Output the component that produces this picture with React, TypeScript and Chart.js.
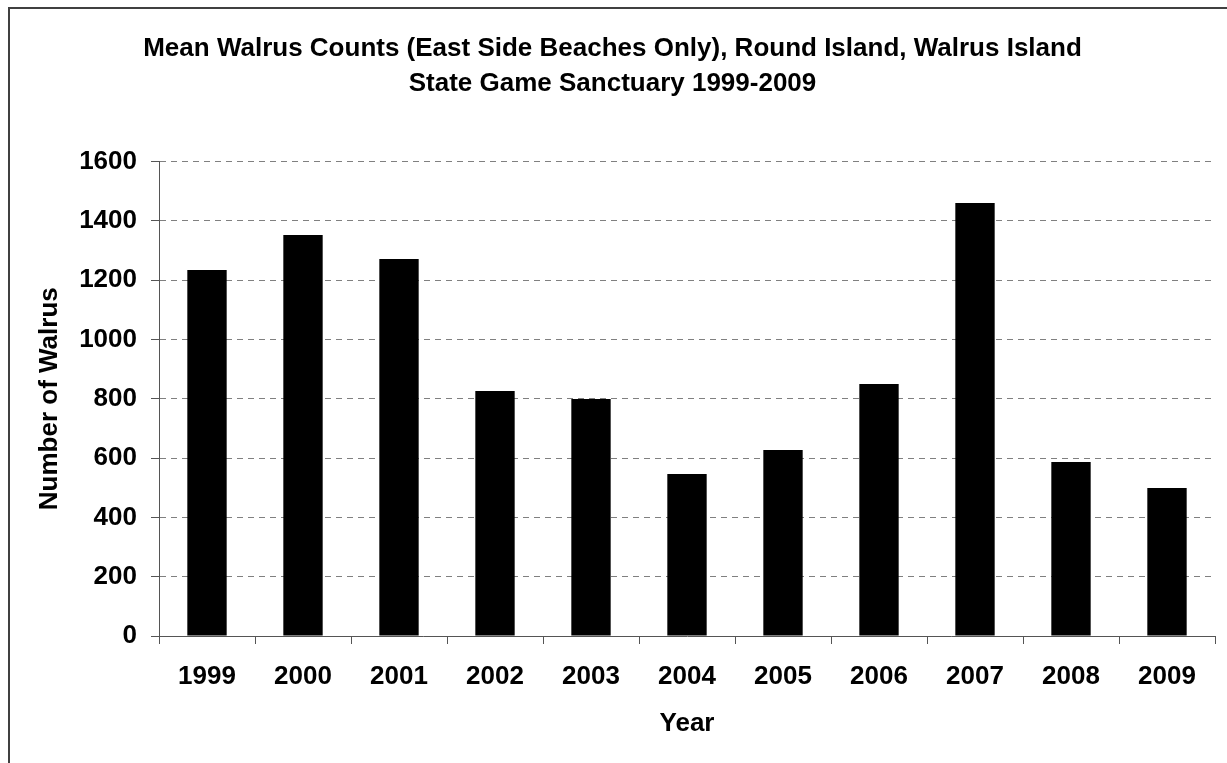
import React, { useEffect, useRef } from "react";
import { Chart, registerables } from "chart.js";

Chart.register(...registerables);

const titleLines = [
  "Mean Walrus Counts (East Side Beaches Only), Round Island, Walrus Island",
  "State Game Sanctuary 1999-2009",
];
const years = ["1999", "2000", "2001", "2002", "2003", "2004", "2005", "2006", "2007", "2008", "2009"];
const walrusCounts = [1234, 1352, 1271, 826, 799, 546, 627, 850, 1460, 587, 499];
const yAxisTitle = "Number of Walrus";
const xAxisTitle = "Year";
const yMin = 0;
const yMax = 1600;
const yStep = 200;

const FONT = "'Liberation Sans', Arial, sans-serif";
const W = 1217;
const H = 754;

export default function App() {
  const ref = useRef<HTMLCanvasElement | null>(null);

  useEffect(() => {
    if (!ref.current) return;
    const chart = new Chart(ref.current, {
      type: "bar",
      data: {
        labels: years,
        datasets: [
          {
            data: walrusCounts,
            backgroundColor: "#000000",
            borderWidth: 0,
            barPercentage: 0.41,
            categoryPercentage: 1,
          },
        ],
      },
      options: {
        responsive: false,
        animation: false,
        devicePixelRatio: 1,
        layout: { padding: { left: 0, right: 12, top: 0, bottom: 0 } },
        plugins: {
          legend: { display: false },
          tooltip: { enabled: false },
          title: {
            display: true,
            text: titleLines,
            color: "#000",
            font: { family: FONT, size: 26, weight: "bold", lineHeight: 1.33 },
            padding: { top: 23, bottom: 60.3 },
          },
        },
        scales: {
          x: {
            afterFit: (s: any) => {
              s.height = 127;
            },
            grid: {
              display: true,
              drawOnChartArea: false,
              drawTicks: true,
              tickLength: 8,
              tickColor: "#555",
              offset: true,
            },
            border: { display: true, color: "#555", width: 1 },
            ticks: {
              color: "#000",
              padding: 17.4,
              maxRotation: 0,
              font: { family: FONT, size: 26, weight: "bold" },
            },
            title: {
              display: true,
              text: xAxisTitle,
              color: "#000",
              font: { family: FONT, size: 26, weight: "bold" },
              padding: { top: 0, bottom: 23.4 },
            },
          },
          y: {
            min: yMin,
            max: yMax,
            afterFit: (s: any) => {
              s.width = 149;
            },
            grid: {
              display: true,
              color: "#808080",
              lineWidth: 1,
              drawTicks: true,
              tickLength: 8,
              tickColor: "#555",
              tickBorderDash: [],
            } as any,
            border: { display: true, color: "#555", width: 1, dash: [6, 5] },
            ticks: {
              stepSize: yStep,
              color: "#000",
              padding: 14,
              font: { family: FONT, size: 26, weight: "bold" },
              callback: (v: any) => String(v),
            },
            title: {
              display: true,
              text: yAxisTitle,
              color: "#000",
              font: { family: FONT, size: 26, weight: "bold" },
              padding: { top: 24.4, bottom: 0 },
            },
          },
        },
      },
    });
    return () => chart.destroy();
  }, []);

  return (
    <div
      style={{
        position: "absolute",
        left: 8,
        top: 7,
        width: W + 2,
        height: H + 2,
        borderLeft: "2px solid #404040",
        borderTop: "2px solid #404040",
        background: "#fff",
        boxSizing: "border-box",
      }}
    >
      <canvas ref={ref} width={W} height={H} style={{ display: "block", width: W, height: H }} />
    </div>
  );
}
